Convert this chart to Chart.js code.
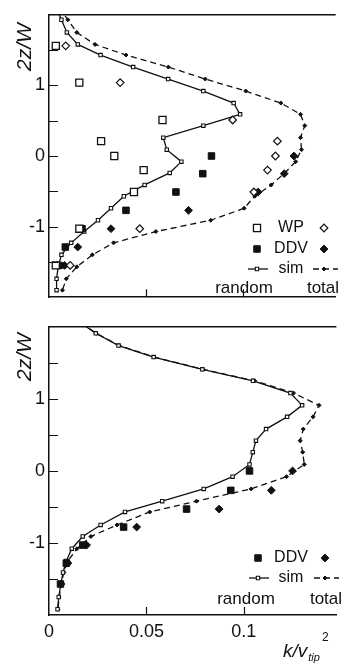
<!DOCTYPE html>
<html>
<head>
<meta charset="utf-8">
<script src="https://cdn.jsdelivr.net/npm/chart.js@4.4.0/dist/chart.umd.min.js"></script>
<style>
  html, body { margin: 0; padding: 0; background: #fff; }
  #wrap { position: relative; width: 342px; height: 664px; overflow: hidden; }
  canvas { position: absolute; left: 0; }
  #top { top: 0; width: 342px; height: 312px; }
  #bottom { top: 312px; width: 342px; height: 352px; }
</style>
</head>
<body>
<div id="wrap">
  <canvas id="top" width="342" height="312"></canvas>
  <canvas id="bottom" width="342" height="352"></canvas>
</div>
<script>
/* ================= AXES ================= */
const xMax = 0.1475;
const xTicks = [0, 0.05, 0.1];
const xTickLabels = ["0", "0.05", "0.1"];
const yTicks = [-1.5, -1, -0.5, 0, 0.5, 1, 1.5];
const yTickLabels = ["", "-1", "", "0", "", "1", ""];

/* ================= TOP PANEL: WP + DDV + sim ================= */
const simZTop = [2.10, 1.93, 1.75, 1.58, 1.43, 1.26, 1.09, 0.92, 0.75, 0.59, 0.43, 0.26, 0.09,
                 -0.08, -0.24, -0.41, -0.57, -0.74, -0.91, -1.07, -1.23, -1.40, -1.57, -1.74, -1.90];
const simRandomTop = [0.0037, 0.0064, 0.0092, 0.0148, 0.0265, 0.0433, 0.0613, 0.0794, 0.0950, 0.0983, 0.0794, 0.0588, 0.0606,
                      0.0681, 0.0621, 0.0492, 0.0385, 0.0319, 0.0252, 0.0181, 0.0114, 0.0064, 0.0047, 0.0039, 0.0039];
const simTotalTop = [0.0053, 0.0097, 0.0143, 0.0237, 0.0396, 0.0614, 0.0804, 0.1012, 0.1193, 0.1294, 0.1316, 0.1294, 0.1299,
                     0.1269, 0.1213, 0.1143, 0.1059, 0.1004, 0.0832, 0.0550, 0.0332, 0.0223, 0.0143, 0.0089, 0.0069];

const wpZ = [1.56, 1.04, 0.51, 0.21, 0.00, -0.20, -0.51, -1.03, -1.55];
const wpRandom = [0.0035, 0.0156, 0.0584, 0.0268, 0.0336, 0.0487, 0.0437, 0.0156, 0.0035];
const wpTotal = [0.0086, 0.0366, 0.0945, 0.1175, 0.1165, 0.1124, 0.1054, 0.0467, 0.0109];

const ddvZTop = [0.00, -0.25, -0.51, -0.77, -1.03, -1.29, -1.55];
const ddvRandomTop = [0.0836, 0.0791, 0.0653, 0.0396, 0.0170, 0.0084, 0.0052];
const ddvTotalTop = [0.1260, 0.1210, 0.1076, 0.0718, 0.0319, 0.0148, 0.0080];

/* ================= BOTTOM PANEL: DDV + sim ================= */
const simZBot = [2.05, 1.91, 1.74, 1.58, 1.41, 1.25, 1.08, 0.91, 0.75, 0.58, 0.42, 0.26, 0.09,
                 -0.08, -0.25, -0.42, -0.57, -0.75, -0.91, -1.08, -1.25, -1.41, -1.58, -1.75, -1.92];
const simRandomBot = [0.0165, 0.0240, 0.0357, 0.0537, 0.0787, 0.1047, 0.1239, 0.1299, 0.1222, 0.1114, 0.1062, 0.1046, 0.1029,
                      0.0942, 0.0794, 0.0581, 0.0390, 0.0265, 0.0173, 0.0117, 0.0089, 0.0072, 0.0060, 0.0050, 0.0044];
const simTotalBot = [0.0167, 0.0242, 0.0360, 0.0540, 0.0790, 0.1055, 0.1255, 0.1386, 0.1355, 0.1305, 0.1289, 0.1302, 0.1310,
                     0.1219, 0.1037, 0.0757, 0.0517, 0.0349, 0.0215, 0.0143, 0.0097, 0.0076, 0.0062, 0.0052, 0.0046];

const ddvZBot = [0.00, -0.27, -0.53, -0.78, -1.03, -1.28, -1.57];
const ddvRandomBot = [0.1029, 0.0933, 0.0706, 0.0383, 0.0173, 0.0089, 0.0059];
const ddvTotalBot = [0.1250, 0.1141, 0.0873, 0.0450, 0.0193, 0.0097, 0.0062];

/* ================= STYLE ================= */
const INK = "#111";
const FONT = '"Liberation Sans", Arial, Helvetica, sans-serif';

const marks = {
    wpRandom:  { pointStyle: "rect",    radius: 5,   fill: "#fff", border: 1.3 },
    wpTotal:   { pointStyle: "rectRot", radius: 3.8, fill: "#fff", border: 1.2 },
    ddvRandom: { pointStyle: "rect",    radius: 4.6, fill: INK,    border: 1 },
    ddvTotal:  { pointStyle: "rectRot", radius: 3.9, fill: INK,    border: 1 },
    simRandom: { pointStyle: "rect",    radius: 2.4, fill: "#fff", border: 1.1 },
    simTotal:  { pointStyle: "rectRot", radius: 2,   fill: INK,    border: 1 }
};

const pts = (xs, zs) => xs.map((x, i) => ({ x, y: zs[i] }));

function markSet(xs, zs, m) {
    return {
        data: pts(xs, zs),
        showLine: false,
        pointStyle: m.pointStyle,
        pointRadius: m.radius,
        pointBackgroundColor: m.fill,
        pointBorderColor: INK,
        pointBorderWidth: m.border
    };
}

function lineSet(xs, zs, m, dashed) {
    return {
        data: pts(xs, zs),
        showLine: true,
        borderColor: INK,
        borderWidth: 1.3,
        borderDash: dashed ? [6, 4] : [],
        tension: 0,
        pointStyle: m.pointStyle,
        pointRadius: m.radius,
        pointBackgroundColor: m.fill,
        pointBorderColor: INK,
        pointBorderWidth: m.border
    };
}

/* ================= DECORATION (frame, inward ticks, titles, legend) ================= */
function drawMark(ctx, m, x, y) {
    ctx.save();
    ctx.fillStyle = m.fill;
    ctx.strokeStyle = INK;
    ctx.lineWidth = m.border;
    Chart.helpers.drawPoint(ctx, { pointStyle: m.pointStyle, radius: m.radius, rotation: 0, borderWidth: m.border }, x, y);
    ctx.restore();
}

function makeDeco(cfg) {
    return {
        id: "deco",
        afterDraw(chart) {
            const { ctx, chartArea: a, scales: { x, y } } = chart;
            ctx.save();
            ctx.strokeStyle = INK;
            ctx.fillStyle = INK;

            // top frame line
            ctx.lineWidth = 1.5;
            ctx.beginPath();
            ctx.moveTo(a.left, a.top);
            ctx.lineTo(a.right, a.top);
            ctx.stroke();

            // inward ticks
            ctx.lineWidth = 1.2;
            ctx.beginPath();
            yTicks.forEach(v => {
                const p = Math.round(y.getPixelForValue(v)) + 0.5;
                ctx.moveTo(a.left, p);
                ctx.lineTo(a.left + 9, p);
            });
            xTicks.forEach(v => {
                if (v === 0) return;
                const p = Math.round(x.getPixelForValue(v)) + 0.5;
                ctx.moveTo(p, a.bottom);
                ctx.lineTo(p, a.bottom - 8);
            });
            ctx.stroke();

            // y title
            ctx.save();
            ctx.translate(25, cfg.titleY);
            ctx.rotate(-Math.PI / 2);
            ctx.font = "italic 21px " + FONT;
            ctx.textAlign = "center";
            ctx.textBaseline = "middle";
            ctx.fillText("2z/W", 0, 0);
            ctx.restore();

            // legend
            const L = cfg.legend;
            ctx.textAlign = "center";
            ctx.textBaseline = "middle";
            L.rows.forEach(r => {
                ctx.font = "16px " + FONT;
                ctx.fillStyle = INK;
                ctx.fillText(r.label, L.labelX, r.y);
                if (r.line) {
                    ctx.lineWidth = 1.3;
                    ctx.beginPath();
                    ctx.setLineDash([]);
                    ctx.moveTo(L.randX - 9, r.y);
                    ctx.lineTo(L.randX + 11, r.y);
                    ctx.stroke();
                    ctx.beginPath();
                    ctx.setLineDash([6, 4]);
                    ctx.moveTo(L.totX - 11, r.y);
                    ctx.lineTo(L.totX + 14, r.y);
                    ctx.stroke();
                    ctx.setLineDash([]);
                }
                drawMark(ctx, marks[r.rnd], L.randX, r.y);
                drawMark(ctx, marks[r.tot], L.totX, r.y);
            });
            ctx.font = "17px " + FONT;
            ctx.fillStyle = INK;
            ctx.fillText("random", L.randomX, L.footY);
            ctx.fillText("total", L.totalX, L.footY);

            // x title
            if (cfg.xTitle) {
                const bx = 283, by = cfg.xTitleY;
                ctx.textAlign = "left";
                ctx.textBaseline = "alphabetic";
                ctx.font = "italic 19px " + FONT;
                ctx.fillText("k/v", bx, by);
                const w = ctx.measureText("k/v").width;
                ctx.font = "italic 11px " + FONT;
                ctx.fillText("tip", bx + w + 1, by + 4);
                ctx.font = "12px " + FONT;
                ctx.fillText("2", bx + 39, by - 16);
            }
            ctx.restore();
        }
    };
}

/* ================= CHART OPTIONS ================= */
function makeOptions(topPad, xHeight, showXLabels) {
    return {
        responsive: false,
        animation: false,
        layout: { padding: { top: topPad, right: 0, bottom: 0, left: 0 } },
        plugins: { legend: { display: false }, tooltip: { enabled: false } },
        scales: {
            x: {
                type: "linear",
                min: 0,
                max: xMax,
                grid: { display: false, drawTicks: false },
                border: { display: true, color: INK, width: 1.5 },
                afterBuildTicks: s => { s.ticks = xTicks.map(v => ({ value: v })); },
                afterFit: s => { s.height = xHeight; },
                ticks: {
                    display: showXLabels,
                    padding: 6,
                    color: INK,
                    font: { size: 18, family: FONT },
                    callback: v => xTickLabels[xTicks.indexOf(v)]
                }
            },
            y: {
                type: "linear",
                min: -2,
                max: 2,
                grid: { display: false, drawTicks: false },
                border: { display: true, color: INK, width: 1.5 },
                afterBuildTicks: s => { s.ticks = yTicks.map(v => ({ value: v })); },
                afterFit: s => { s.width = 49; },
                ticks: {
                    padding: 4,
                    color: INK,
                    font: { size: 18, family: FONT },
                    callback: v => yTickLabels[yTicks.indexOf(v)]
                }
            }
        }
    };
}

/* ================= INIT ================= */
new Chart(document.getElementById("top"), {
    type: "scatter",
    data: {
        datasets: [
            markSet(wpRandom, wpZ, marks.wpRandom),
            markSet(wpTotal, wpZ, marks.wpTotal),
            markSet(ddvRandomTop, ddvZTop, marks.ddvRandom),
            markSet(ddvTotalTop, ddvZTop, marks.ddvTotal),
            lineSet(simRandomTop, simZTop, marks.simRandom, false),
            lineSet(simTotalTop, simZTop, marks.simTotal, true)
        ]
    },
    options: makeOptions(11, 5, false),
    plugins: [makeDeco({
        titleY: 47,
        legend: {
            rows: [
                { y: 228, label: "WP", rnd: "wpRandom", tot: "wpTotal" },
                { y: 249, label: "DDV", rnd: "ddvRandom", tot: "ddvTotal" },
                { y: 269, label: "sim", rnd: "simRandom", tot: "simTotal", line: true }
            ],
            randX: 257, labelX: 291, totX: 324,
            footY: 288, randomX: 244, totalX: 323
        }
    })]
});

new Chart(document.getElementById("bottom"), {
    type: "scatter",
    data: {
        datasets: [
            markSet(ddvRandomBot, ddvZBot, marks.ddvRandom),
            markSet(ddvTotalBot, ddvZBot, marks.ddvTotal),
            lineSet(simRandomBot, simZBot, marks.simRandom, false),
            lineSet(simTotalBot, simZBot, marks.simTotal, true)
        ]
    },
    options: makeOptions(6, 49, true),
    plugins: [makeDeco({
        titleY: 45,
        xTitle: true,
        xTitleY: 345,
        legend: {
            rows: [
                { y: 246, label: "DDV", rnd: "ddvRandom", tot: "ddvTotal" },
                { y: 266, label: "sim", rnd: "simRandom", tot: "simTotal", line: true }
            ],
            randX: 258, labelX: 291, totX: 325,
            footY: 287, randomX: 246, totalX: 326
        }
    })]
});
</script>
</body>
</html>
